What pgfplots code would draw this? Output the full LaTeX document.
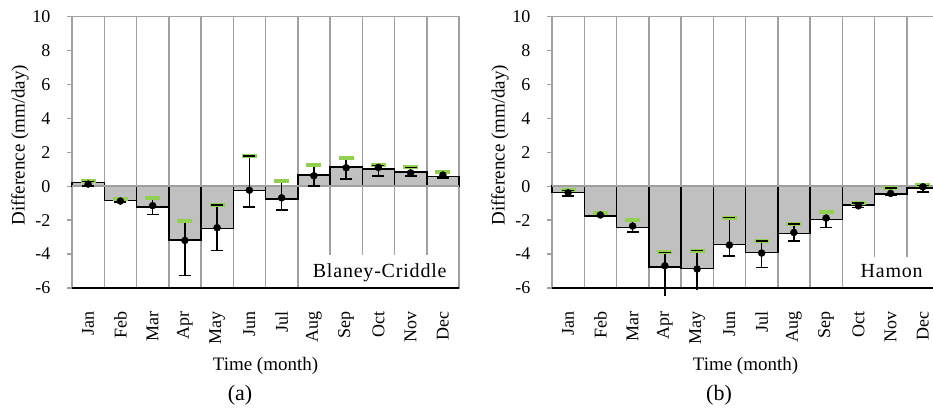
\documentclass[border=0pt]{standalone}
\usepackage{pgfplots}
\pgfplotsset{compat=1.18}
\usepackage{pgfplotstable}
\usepackage{fontspec}
\setmainfont{Liberation Serif}
\newfontfamily\spaced[LetterSpace=4]{Liberation Serif}
\definecolor{barfill}{HTML}{C0C0C0}
\definecolor{gridgray}{HTML}{A0A0A0}
\definecolor{mkgreen}{HTML}{92D050}

% x bar point low high green cap
\pgfplotstableread{
x bar pt lo hi green cap
1 0.20 0.12 0.02 0.28 0.28 0.28
2 -0.86 -0.88 -0.95 -0.80 -0.78 nan
3 -1.22 -1.15 -1.67 -0.82 -0.71 nan
4 -3.16 -3.20 -5.27 -2.16 -2.08 nan
5 -2.51 -2.45 -3.78 -1.12 -1.12 -1.12
6 -0.27 -0.24 -1.22 1.76 1.76 1.76
7 -0.76 -0.69 -1.41 0.25 0.31 nan
8 0.65 0.61 0.02 1.20 1.25 nan
9 1.12 1.08 0.41 1.53 1.63 nan
10 1.02 1.10 0.61 1.20 1.25 1.20
11 0.84 0.78 0.61 1.10 1.10 1.10
12 0.57 0.65 0.47 0.75 0.82 nan
}\tblA

\pgfplotstableread{
x bar pt lo hi green cap
1 -0.39 -0.39 -0.59 -0.25 -0.25 -0.25
2 -1.76 -1.70 -1.78 -1.62 -1.60 nan
3 -2.43 -2.35 -2.69 -2.10 -2.00 nan
4 -4.75 -4.69 -6.50 -3.90 -3.90 -3.90
5 -4.84 -4.88 -6.10 -3.80 -3.80 -3.80
6 -3.43 -3.47 -4.12 -1.86 -1.86 -1.86
7 -3.90 -3.94 -4.80 -3.24 -3.24 -3.24
8 -2.78 -2.73 -3.22 -2.22 -2.22 -2.22
9 -1.96 -1.88 -2.45 -1.70 -1.55 nan
10 -1.12 -1.16 -1.25 -0.98 -0.98 -0.98
11 -0.47 -0.43 -0.55 -0.10 -0.10 -0.10
12 -0.10 -0.04 -0.35 0.04 0.04 0.04
}\tblB

\pgfplotsset{
  panel/.style={
    scale only axis, width=387pt, height=271.7pt, anchor=south west,
    xmin=0.5, xmax=12.5, ymin=-6, ymax=10, clip=false,
    xtick={1,...,12},
    xticklabels={Jan,Feb,Mar,Apr,May,Jun,Jul,Aug,Sep,Oct,Nov,Dec},
    minor xtick={1.5,2.5,...,11.5}, xminorgrids=true,
    minor grid style={gridgray, line width=1.5pt},
    xtick style={draw=none},
    ytick={-6,-4,...,10}, ytick pos=left, tick align=outside,
    major tick length=5pt,
    ytick style={gridgray, line width=1.2pt},
    axis line style={gridgray, line width=1.5pt},
    tick label style={font=\fontsize{18}{20}\selectfont},
    xticklabel style={rotate=90, anchor=east},
    xticklabel shift=15pt, yticklabel shift=13pt,
    /pgf/number format/assume math mode=true,
    xlabel={Time (month)}, ylabel={Difference (mm/day)},
    x label style={at={(rel axis cs:0.5,0)}, anchor=center, yshift=-78pt, font=\fontsize{19}{21}\selectfont},
    y label style={at={(rel axis cs:0,0.526)}, anchor=center, rotate=0, yshift=52pt, font=\fontsize{19}{21}\selectfont},
  },
  barst/.style={ybar, bar width=1, fill=barfill, draw=black, line width=1.5pt},
  zerost/.style={gridgray, line width=2.5pt, mark=none},
  greenst/.style={only marks, mark=-, mark size=7.5pt, mkgreen, mark options={line width=4pt}},
  capst/.style={only marks, mark=-, mark size=6pt, black, mark options={line width=1.5pt}},
  ptst/.style={only marks, mark=*, mark size=3.5pt, black},
}

\begin{document}
\begin{tikzpicture}
% ---------------- panel (a)
\begin{axis}[panel, at={(72pt,127pt)}]
\fill[white] (axis cs:8.0,-5.93) rectangle (axis cs:12.43,-4.05);
\addplot[barst] table[x=x,y=bar]{\tblA};
\addplot[zerost] coordinates {(0.5,0) (12.5,0)};
\addplot[greenst] table[x=x,y=green]{\tblA};
\addplot[only marks, mark=none, black,
  error bars/.cd, y dir=plus, y explicit, error mark=none,
  error bar style={line width=1.5pt, black}]
  table[x=x, y=pt, y error plus expr=\thisrow{hi}-\thisrow{pt}]{\tblA};
\addplot[only marks, mark=none, black,
  error bars/.cd, y dir=minus, y explicit,
  error bar style={line width=1.5pt, black},
  error mark options={rotate=90, mark size=6pt, line width=1.5pt, black}]
  table[x=x, y=pt, y error minus expr=\thisrow{pt}-\thisrow{lo}]{\tblA};
\addplot[capst] table[x=x,y=cap]{\tblA};
\addplot[ptst] table[x=x,y=pt]{\tblA};
\node[anchor=base east, inner sep=0pt, font=\spaced\fontsize{20}{22}\selectfont] at (axis cs:12.12,-5.4) {Blaney-Criddle};
\draw[black, line width=1.8pt] (rel axis cs:0,0) -- (rel axis cs:1,0);
\end{axis}
% ---------------- panel (b)
\begin{axis}[panel, at={(552pt,127pt)}]
\fill[white] (axis cs:9.75,-5.93) rectangle (axis cs:12.43,-4.2);
\addplot[barst] table[x=x,y=bar]{\tblB};
\addplot[zerost] coordinates {(0.5,0) (12.5,0)};
\addplot[greenst] table[x=x,y=green]{\tblB};
\addplot[only marks, mark=none, black,
  error bars/.cd, y dir=plus, y explicit, error mark=none,
  error bar style={line width=1.5pt, black}]
  table[x=x, y=pt, y error plus expr=\thisrow{hi}-\thisrow{pt}]{\tblB};
\addplot[only marks, mark=none, black, skip coords between index={3}{5},
  error bars/.cd, y dir=minus, y explicit,
  error bar style={line width=1.5pt, black},
  error mark options={rotate=90, mark size=6pt, line width=1.5pt, black}]
  table[x=x, y=pt, y error minus expr=\thisrow{pt}-\thisrow{lo}]{\tblB};
\addplot[only marks, mark=none, black,
  skip coords between index={0}{3}, skip coords between index={5}{12},
  error bars/.cd, y dir=minus, y explicit, error mark=none,
  error bar style={line width=1.5pt, black}]
  table[x=x, y=pt, y error minus expr=\thisrow{pt}-\thisrow{lo}]{\tblB};
\addplot[capst] table[x=x,y=cap]{\tblB};
\addplot[ptst] table[x=x,y=pt]{\tblB};
\node[anchor=base east, inner sep=0pt, font=\spaced\fontsize{20}{22}\selectfont] at (axis cs:12.0,-5.4) {Hamon};
\draw[black, line width=1.8pt] (rel axis cs:0,0) -- (rel axis cs:1,0);
\end{axis}
\node[font=\fontsize{22}{24}\selectfont] at (240pt,20pt) {(a)};
\node[font=\fontsize{22}{24}\selectfont] at (719pt,20pt) {(b)};
\pgfresetboundingbox
\useasboundingbox (0pt,0pt) rectangle (933pt,415pt);
\end{tikzpicture}
\end{document}
